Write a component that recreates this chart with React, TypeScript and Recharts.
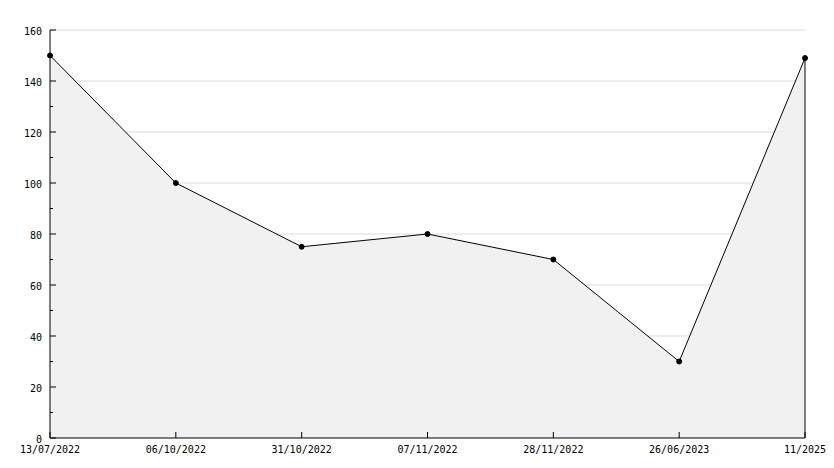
import { Area, CartesianGrid, ComposedChart, ReferenceLine, XAxis, YAxis } from "recharts";

/* ---------- data ---------- */
const dates = [
  "13/07/2022",
  "06/10/2022",
  "31/10/2022",
  "07/11/2022",
  "28/11/2022",
  "26/06/2023",
  "11/2025",
];
const values = [150, 100, 75, 80, 70, 30, 149];
const yTicks = [0, 10, 20, 30, 40, 50, 60, 70, 80, 90, 100, 110, 120, 130, 140, 150, 160];
const gridValues = [20, 40, 60, 80, 100, 120, 140, 160];

const data = dates.map((d, i) => ({ date: d, value: values[i] }));
const lastDate = dates[dates.length - 1];
const lastValue = values[values.length - 1];

const FONT = "'DejaVu Sans Mono', monospace";

/* y ticks drawn inward, labels only on every 20 */
function YTick(props: any) {
  const { x, y, payload } = props;
  const major = payload.value % 20 === 0;
  return (
    <g>
      <line x1={x} x2={x + (major ? 6 : 3)} y1={y} y2={y} stroke="#000" />
      {major && (
        <text x={x - 8} y={y + 5} textAnchor="end" fontFamily={FONT} fontSize={10} fill="#000">
          {payload.value}
        </text>
      )}
    </g>
  );
}

/* x ticks drawn upward into the plot */
function XTick(props: any) {
  const { x, y, payload } = props;
  return (
    <g>
      <line x1={x} x2={x} y1={y} y2={y - 6} stroke="#000" />
      <text x={x} y={y + 15} textAnchor="middle" fontFamily={FONT} fontSize={10} fill="#000">
        {payload.value}
      </text>
    </g>
  );
}

export default function App() {
  return (
    <div style={{ position: "absolute", left: 0, top: 0, background: "#fff" }}>
      <ComposedChart
        width={834}
        height={468}
        data={data}
        margin={{ top: 30, right: 29, left: 0, bottom: 0 }}
      >
        {/* grid only every 20, kept under the area fill */}
        <CartesianGrid vertical={false} stroke="#dcdcdc" horizontalValues={gridValues} />
        <Area
          type="linear"
          dataKey="value"
          stroke="#000"
          strokeWidth={1}
          fill="#f1f1f1"
          fillOpacity={1}
          dot={{ r: 2.5, fill: "#000", stroke: "#000", strokeWidth: 1 }}
          activeDot={false}
          isAnimationActive={false}
        />
        <ReferenceLine
          segment={[
            { x: lastDate, y: 0 },
            { x: lastDate, y: lastValue },
          ]}
          stroke="#000"
          ifOverflow="visible"
        />
        <XAxis
          dataKey="date"
          type="category"
          interval={0}
          height={30}
          padding={{ left: 0, right: 0 }}
          tickSize={0}
          tickMargin={0}
          axisLine={{ stroke: "#000" }}
          tickLine={false}
          tick={<XTick />}
        />
        <YAxis
          domain={[0, 160]}
          ticks={yTicks}
          interval={0}
          width={50}
          tickSize={0}
          tickMargin={0}
          axisLine={{ stroke: "#000" }}
          tickLine={false}
          tick={<YTick />}
        />
      </ComposedChart>
    </div>
  );
}
